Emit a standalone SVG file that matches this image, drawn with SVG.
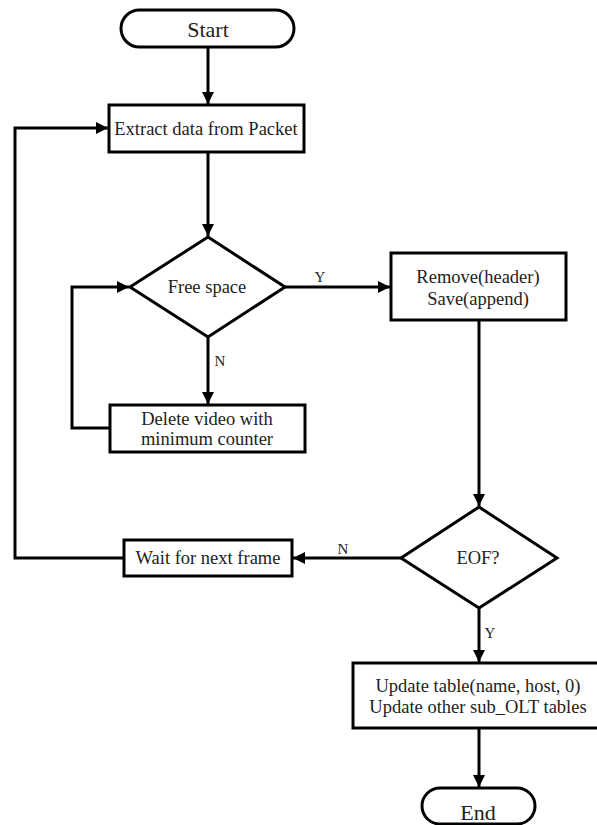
<svg xmlns="http://www.w3.org/2000/svg" width="597" height="825" viewBox="0 0 597 825">
  <style>
    .shape { fill: #fff; stroke: #000; stroke-width: 3; }
    .wire { fill: none; stroke: #000; stroke-width: 3; }
    .lbl { font-family: "Liberation Serif", "Times New Roman", serif; font-size: 18.5px; fill: #222; text-anchor: middle; }
    .big { font-size: 22px; }
    .yn { font-family: "Liberation Serif", "Times New Roman", serif; font-size: 15px; fill: #222; text-anchor: middle; }
  </style>
  <defs>
    <marker id="arrow" markerUnits="userSpaceOnUse" markerWidth="14" markerHeight="14" viewBox="0 0 14 14" refX="13" refY="7" orient="auto">
      <path d="M1,1 L13,7 L1,13 Z" fill="#000"/>
    </marker>
  </defs>
  <rect width="597" height="825" fill="#fff"/>

  <g id="connectors">
    <line class="wire" x1="208" y1="47" x2="208" y2="104" marker-end="url(#arrow)"/>
    <line class="wire" x1="208" y1="152" x2="208" y2="236" marker-end="url(#arrow)"/>
    <line class="wire" x1="285" y1="287" x2="390" y2="287" marker-end="url(#arrow)"/>
    <line class="wire" x1="208" y1="337" x2="208" y2="404" marker-end="url(#arrow)"/>
    <polyline class="wire" points="110,428 72,428 72,287 129,287" marker-end="url(#arrow)"/>
    <line class="wire" x1="479" y1="320" x2="479" y2="506" marker-end="url(#arrow)"/>
    <line class="wire" x1="401" y1="558" x2="293" y2="558" marker-end="url(#arrow)"/>
    <polyline class="wire" points="124,558 15,558 15,128 108,128" marker-end="url(#arrow)"/>
    <line class="wire" x1="479" y1="608" x2="479" y2="662" marker-end="url(#arrow)"/>
    <line class="wire" x1="479" y1="728" x2="479" y2="787" marker-end="url(#arrow)"/>
    <text class="yn" x="320" y="282">Y</text>
    <text class="yn" x="220" y="366">N</text>
    <text class="yn" x="343" y="554">N</text>
    <text class="yn" x="490" y="638">Y</text>
  </g>

  <g id="start">
    <rect class="shape" x="121" y="10" width="173" height="37" rx="18.5"/>
    <text class="lbl big" x="208" y="37">Start</text>
  </g>

  <g id="extract">
    <rect class="shape" x="109" y="105" width="195" height="47"/>
    <text class="lbl" x="206" y="135">Extract data from Packet</text>
  </g>

  <g id="free-space">
    <polygon class="shape" points="208,237 285,287 208,337 130,287"/>
    <text class="lbl" x="207" y="293">Free space</text>
  </g>

  <g id="remove-save">
    <rect class="shape" x="391" y="253" width="175" height="67"/>
    <text class="lbl" x="478" y="283">Remove(header)</text>
    <text class="lbl" x="478" y="305">Save(append)</text>
  </g>

  <g id="delete-video">
    <rect class="shape" x="110" y="405" width="195" height="47"/>
    <text class="lbl" x="207" y="425">Delete video with</text>
    <text class="lbl" x="207" y="445">minimum counter</text>
  </g>

  <g id="eof">
    <polygon class="shape" points="479,507 557,558 479,608 401,558"/>
    <text class="lbl" x="478" y="564">EOF?</text>
  </g>

  <g id="wait-frame">
    <rect class="shape" x="124" y="540" width="168" height="36"/>
    <text class="lbl" x="208" y="564">Wait for next frame</text>
  </g>

  <g id="update-tables">
    <rect class="shape" x="353" y="663" width="252" height="65"/>
    <text class="lbl" x="478" y="692">Update table(name, host, 0)</text>
    <text class="lbl" x="478" y="713">Update other sub_OLT tables</text>
  </g>

  <g id="end">
    <rect class="shape" x="422" y="788" width="113" height="36" rx="18"/>
    <text class="lbl big" x="478" y="820">End</text>
  </g>
</svg>
